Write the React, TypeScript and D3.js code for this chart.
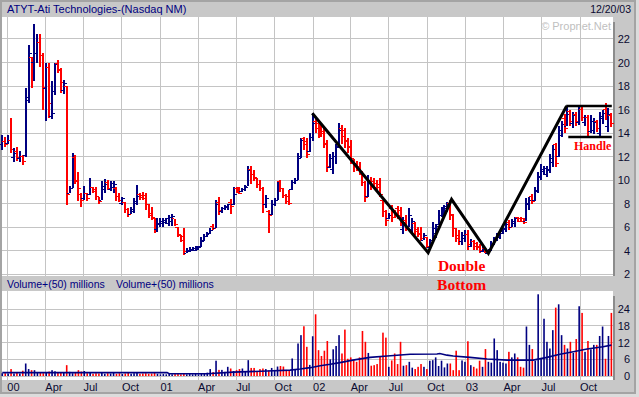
import * as d3 from "d3";

// weekly bars, first week starting Mon 20 Dec 1999
const firstWeek = new Date(1999, 11, 20);

const opens = [
  13.0, 13.3, 13.1, 13.4, 11.9, 12.4, 11.8, 12.0, 12.1, 16.8,
  20.4, 20.0, 20.8, 21.7, 20.6, 17.8, 19.6, 15.4, 17.5, 19.9,
  19.3, 17.6, 18.0, 8.9, 9.3, 11.9, 9.9, 8.8, 8.4, 8.9,
  8.8, 9.4, 9.2, 8.6, 8.3, 9.2, 9.8, 9.2, 9.4, 9.3,
  8.6, 8.0, 8.1, 7.5, 7.1, 7.3, 8.0, 8.8, 8.7, 8.7,
  7.9, 7.2, 6.7, 5.8, 6.2, 6.3, 6.4, 6.3, 6.5, 6.7,
  6.0, 5.3, 5.2, 3.8, 3.9, 4.0, 4.0, 4.1, 4.4, 4.9,
  5.2, 5.4, 6.1, 5.9, 8.1, 7.3, 7.6, 7.7, 8.1, 7.9,
  9.3, 9.2, 9.0, 9.2, 9.5, 10.9, 10.5, 10.1, 9.6, 9.3,
  7.9, 7.3, 7.1, 7.9, 8.3, 9.9, 9.3, 8.7, 8.6, 9.2,
  9.8, 10.0, 12.0, 13.5, 13.3, 12.4, 13.6, 15.0, 14.8, 14.6,
  14.0, 13.1, 11.1, 10.9, 12.0, 12.9, 14.4, 14.2, 13.4, 12.9,
  11.7, 11.4, 11.2, 10.5, 9.8, 8.6, 10.0, 9.9, 9.7, 9.6,
  8.3, 7.3, 6.7, 7.6, 7.3, 7.6, 7.4, 5.8, 6.6, 6.0,
  5.8, 6.3, 5.8, 5.5, 4.9, 5.1, 4.3, 4.9, 5.5, 6.2,
  7.0, 7.4, 7.6, 8.0, 7.1, 5.9, 5.3, 4.8, 5.0, 5.4,
  4.4, 4.8, 4.6, 4.4, 3.9, 4.2, 3.8, 4.1, 4.5, 4.9,
  5.1, 5.5, 5.8, 6.4, 6.0, 6.3, 6.8, 6.7, 6.7, 6.5,
  7.9, 8.6, 8.3, 9.0, 10.2, 10.7, 10.5, 10.8, 11.5, 13.0,
  12.0, 13.8, 15.2, 14.6, 15.8, 14.8, 15.6, 14.9, 16.0, 14.9,
  15.3, 14.1, 14.2, 15.0, 14.0, 15.2, 16.0, 14.6, 15.5
];
const highs = [
  13.8, 13.7, 13.8, 15.3, 12.7, 12.8, 12.5, 12.1, 17.8, 21.5,
  20.5, 23.3, 22.4, 22.4, 20.8, 20.0, 20.0, 18.4, 20.0, 20.2,
  19.5, 18.5, 18.0, 9.5, 12.3, 12.1, 10.7, 8.9, 9.5, 8.9,
  10.2, 9.4, 9.4, 8.6, 9.9, 10.1, 10.0, 9.9, 9.9, 9.4,
  8.9, 8.6, 8.1, 7.6, 7.7, 8.5, 9.6, 8.9, 9.0, 8.9,
  8.0, 7.7, 6.8, 6.8, 6.8, 6.8, 6.8, 7.0, 7.1, 6.7,
  6.0, 5.3, 5.9, 4.2, 4.3, 4.3, 4.4, 4.4, 5.2, 5.4,
  5.6, 5.9, 6.3, 8.3, 8.6, 7.7, 7.9, 8.0, 8.4, 9.4,
  9.4, 9.4, 9.3, 9.6, 11.2, 11.2, 10.9, 10.2, 10.0, 9.4,
  8.7, 7.5, 8.3, 8.5, 9.9, 10.0, 9.3, 8.8, 9.2, 10.0,
  10.2, 12.3, 13.6, 13.7, 13.6, 14.0, 15.7, 15.4, 15.1, 14.8,
  14.4, 13.4, 12.2, 12.4, 13.1, 14.9, 14.7, 14.4, 13.6, 13.4,
  11.8, 11.6, 11.5, 10.7, 9.9, 10.4, 10.3, 10.2, 10.0, 10.2,
  8.3, 7.5, 7.2, 7.9, 7.5, 7.8, 7.7, 6.9, 7.0, 7.6,
  6.8, 6.4, 6.0, 6.0, 5.5, 5.2, 5.0, 6.4, 6.3, 7.5,
  7.7, 7.9, 8.1, 8.3, 7.1, 5.9, 5.8, 5.6, 5.8, 5.8,
  5.0, 4.9, 4.7, 4.6, 4.4, 4.3, 4.1, 4.8, 5.2, 5.5,
  5.8, 6.1, 6.4, 6.6, 6.7, 6.9, 6.9, 6.9, 6.8, 8.5,
  8.6, 8.8, 9.4, 10.7, 11.4, 11.2, 11.2, 12.2, 13.0, 13.2,
  14.6, 15.0, 15.6, 16.2, 16.0, 15.8, 15.8, 16.4, 16.2, 15.5,
  15.5, 15.5, 15.3, 15.1, 15.8, 16.0, 16.6, 16.1, 15.7
];
const lows = [
  12.6, 12.8, 13.1, 12.3, 11.5, 11.6, 11.5, 11.3, 12.0, 16.6,
  17.8, 18.4, 20.0, 19.6, 16.0, 15.0, 15.3, 15.2, 17.2, 19.1,
  17.4, 17.3, 7.9, 8.9, 9.3, 9.7, 8.2, 7.7, 8.3, 8.2,
  8.7, 8.9, 8.3, 8.0, 8.3, 8.9, 9.2, 9.1, 8.9, 8.2,
  8.1, 7.9, 7.2, 6.9, 7.1, 7.2, 7.9, 8.3, 8.3, 7.5,
  6.8, 6.6, 5.5, 5.6, 6.0, 6.0, 6.3, 6.1, 6.1, 6.1,
  5.2, 4.7, 3.6, 3.8, 3.9, 4.0, 4.0, 4.1, 4.35, 4.8,
  5.2, 5.4, 5.8, 5.9, 7.0, 7.2, 7.5, 7.5, 7.1, 7.9,
  8.9, 8.8, 9.0, 9.1, 9.5, 9.7, 9.9, 9.3, 9.1, 7.2,
  7.6, 5.5, 7.0, 7.8, 8.3, 9.0, 8.5, 8.0, 7.9, 9.2,
  9.7, 10.0, 11.9, 12.6, 11.9, 12.4, 13.3, 14.0, 13.6, 13.7,
  12.7, 10.7, 11.0, 10.5, 11.4, 12.8, 13.1, 12.7, 12.3, 11.4,
  10.7, 10.8, 10.5, 9.5, 8.1, 8.6, 9.2, 9.3, 9.2, 8.6,
  6.9, 6.1, 6.7, 6.4, 6.8, 6.7, 6.1, 5.4, 5.7, 6.0,
  5.5, 5.3, 5.2, 4.8, 4.9, 4.2, 4.1, 4.7, 5.1, 6.2,
  6.9, 7.0, 7.3, 6.6, 5.2, 4.7, 4.5, 4.5, 4.7, 4.1,
  4.3, 4.1, 4.1, 3.8, 3.9, 3.8, 3.8, 4.0, 4.5, 4.8,
  5.0, 5.4, 5.6, 5.8, 6.0, 6.0, 6.4, 6.4, 6.3, 6.5,
  7.5, 8.0, 8.2, 8.9, 10.0, 10.4, 10.3, 10.6, 11.1, 11.1,
  12.0, 13.7, 14.0, 14.6, 14.6, 14.4, 14.6, 14.7, 15.0, 14.6,
  13.7, 14.0, 13.9, 14.1, 13.7, 14.8, 15.1, 14.1, 14.5
];
const closes = [
  13.3, 13.0, 13.4, 12.6, 12.3, 11.9, 12.0, 11.6, 17.0, 20.8,
  20.0, 20.8, 21.7, 20.6, 17.9, 19.6, 16.5, 15.7, 19.8, 19.4,
  18.3, 18.2, 8.8, 9.3, 12.0, 10.0, 9.3, 8.3, 8.9, 8.4,
  9.4, 9.0, 8.6, 8.2, 9.5, 9.6, 9.3, 9.7, 9.6, 8.6,
  8.3, 8.4, 7.5, 7.1, 7.5, 8.2, 8.6, 8.5, 8.4, 7.9,
  7.0, 6.8, 5.8, 6.3, 6.5, 6.6, 6.7, 6.8, 6.9, 6.2,
  5.4, 4.9, 3.9, 4.0, 4.1, 4.2, 4.2, 4.3, 4.8, 5.2,
  5.5, 5.7, 5.9, 7.9, 7.4, 7.6, 7.8, 7.9, 7.8, 8.8,
  9.1, 8.9, 9.2, 9.4, 10.8, 10.5, 10.2, 9.6, 9.3, 7.9,
  8.4, 7.0, 7.9, 8.3, 9.3, 9.3, 8.7, 8.2, 8.0, 9.8,
  10.0, 11.8, 13.4, 13.0, 12.2, 13.6, 14.8, 14.4, 14.2, 14.1,
  13.0, 11.2, 11.8, 12.0, 12.8, 14.2, 13.7, 13.3, 12.8, 11.8,
  11.2, 11.0, 10.7, 9.8, 8.5, 9.9, 9.5, 9.4, 9.4, 8.8,
  7.3, 6.6, 7.0, 6.8, 7.0, 7.0, 6.4, 6.4, 5.9, 7.0,
  6.5, 5.6, 5.4, 5.0, 5.3, 4.4, 4.9, 5.9, 6.1, 7.0,
  7.5, 7.8, 7.9, 7.0, 5.9, 5.0, 4.8, 5.3, 5.4, 4.5,
  4.8, 4.4, 4.3, 4.0, 4.2, 3.9, 4.0, 4.6, 5.0, 5.3,
  5.6, 5.9, 6.2, 6.0, 6.5, 6.7, 6.5, 6.5, 6.4, 8.0,
  8.3, 8.2, 9.1, 10.3, 10.9, 11.0, 10.9, 11.8, 12.6, 11.4,
  14.2, 14.7, 14.4, 15.6, 15.0, 15.5, 15.0, 16.0, 15.3, 15.3,
  14.1, 15.0, 14.9, 14.4, 15.4, 15.7, 15.4, 15.6, 14.8
];
// weekly volume, millions
const volumes = [
  1.0, 1.0, 0.9, 2.5, 0.9, 1.1, 0.9, 1.9, 4.5, 2.5,
  2.1, 2.1, 1.3, 1.1, 1.0, 1.4, 1.6, 2.1, 1.7, 1.3,
  1.1, 1.3, 3.9, 1.5, 1.0, 1.3, 2.1, 1.6, 1.8, 1.0,
  1.1, 0.8, 1.0, 0.9, 1.2, 0.8, 1.0, 0.9, 1.3, 0.8,
  1.0, 0.7, 0.9, 1.1, 0.8, 1.0, 1.2, 0.8, 0.9, 1.0,
  0.8, 0.9, 1.1, 0.8, 0.6, 0.7, 0.6, 0.8, 0.6, 0.7,
  0.8, 0.6, 0.9, 0.6, 0.7, 0.6, 0.8, 0.6, 0.9, 0.8,
  1.2, 2.5, 1.4, 5.5, 2.2, 2.2, 1.5, 3.3, 2.7, 1.8,
  2.1, 2.5, 2.7, 1.6, 5.7, 2.9, 2.9, 1.8, 2.5, 2.7,
  2.5, 2.0, 2.9, 2.1, 3.4, 3.6, 3.4, 2.2, 2.0, 6.3,
  2.5, 11.7, 14.7, 17.9, 10.5, 4.0, 14.3, 22.2, 9.3, 7.2,
  9.1, 12.6, 6.0, 9.6, 10.8, 14.7, 8.1, 16.7, 6.2, 6.7,
  5.7, 5.1, 6.7, 16.2, 12.3, 8.3, 3.7, 3.9, 4.3, 7.0,
  15.6, 13.8, 3.3, 5.6, 8.1, 4.3, 12.3, 3.7, 3.9, 5.1,
  3.0, 2.5, 3.3, 4.3, 3.3, 2.5, 5.5, 5.7, 6.7, 3.6,
  5.5, 3.1, 4.5, 4.5, 2.1, 9.1, 2.1, 5.6, 5.1, 12.5,
  3.9, 3.3, 2.7, 5.5, 3.3, 9.7, 5.1, 4.8, 13.5, 9.3,
  5.1, 4.8, 4.5, 8.7, 6.7, 8.1, 6.7, 3.3, 3.0, 17.8,
  11.2, 9.7, 5.5, 29.4, 6.2, 20.6, 12.3, 9.9, 16.5, 24.6,
  25.8, 14.7, 11.2, 9.9, 12.3, 8.3, 13.3, 25.1, 22.7, 8.7,
  12.6, 9.6, 11.2, 11.2, 14.4, 17.8, 6.2, 14.4, 22.7
];

// 50-day volume average as drawn
const maDates = [
  "1999-12-20", "2001-01-17", "2001-01-22", "2001-04-22", "2001-06-24", "2001-09-13",
  "2001-11-07", "2001-12-01", "2001-12-25", "2002-01-18", "2002-02-11", "2002-03-06",
  "2002-04-06", "2002-05-17", "2002-06-27", "2002-08-21", "2002-10-24", "2002-10-31",
  "2002-11-17", "2002-12-02", "2003-01-11", "2003-02-21", "2003-04-10", "2003-06-11",
  "2003-07-14", "2003-08-14", "2003-09-15", "2003-10-18", "2003-11-25", "2003-12-15"
];
const maValues = [
  1.2, 1.2, 0.8, 0.8, 1.4, 1.8,
  2.1, 2.5, 3.0, 3.7, 4.2, 4.8,
  5.7, 6.7, 7.2, 7.8, 7.9, 8.1,
  7.5, 7.2, 6.7, 6.1, 5.7, 5.7,
  6.7, 7.8, 8.7, 9.7, 10.5, 11.1
];

// double bottom pattern drawn over the prices
const patternDates = ["2001-12-30", "2002-10-03", "2002-11-28", "2003-02-24", "2003-08-30"];
const patternPrices = [15.68, 3.83, 8.37, 3.78, 16.3];
const handleTopDates = ["2003-08-29", "2003-12-16"];
const handleTopPrices = [16.3, 16.3];
const handleLowDates = ["2003-09-03", "2003-12-16"];
const handleLowPrices = [13.67, 13.67];

const priceTicks = [2, 4, 6, 8, 10, 12, 14, 16, 18, 20, 22];
const volumeTicks = [0, 6, 12, 18, 24];

const NAVY = "#000080";
const RED = "#ff0000";
const GRID = "#c4c4c4";
const PANEL = "#c8c8c8";
const TXT = "#0a0a30";
const SANS = "'Liberation Sans', Arial, sans-serif";
const SERIF = "'Liberation Serif', 'Times New Roman', serif";

const parse = d3.timeParse("%Y-%m-%d");

export default function App() {
  const x = d3.scaleTime()
    .domain([new Date(2000, 0, 1), new Date(2003, 9, 1)])
    .range([7.3, 580]);
  const yP = d3.scaleLinear().domain([1.85, 23.87]).range([276, 17]);
  const yV = d3.scaleLinear().domain([0, 24]).range([376, 309.3]);

  const plotL = 2, plotR = 613;
  const pTop = 17, pBot = 276, vTop = 291, vBot = 380;

  const bars = closes.map((c, i) => ({
    date: d3.timeWeek.offset(firstWeek, i),
    o: opens[i], h: highs[i], l: lows[i], c,
    v: volumes[i]
  }));

  const quarters = x.ticks(d3.timeMonth.every(3));
  const fmt = (d: Date) => d.getMonth() === 0 ? d3.timeFormat("%y")(d) : d3.timeFormat("%b")(d);

  const maLine = d3.line<number>()
    .x((_, i) => x(parse(maDates[i])!))
    .y(v => yV(v));

  const pLine = (dates: string[], prices: number[]) =>
    d3.line<number>().x((_, i) => x(parse(dates[i])!)).y(p => yP(p))(prices) || "";

  const labelX = x(parse("2002-12-22")!);

  return (
    <svg width={639} height={397} style={{ position: "absolute", left: 0, top: 0, display: "block" }}>
      <rect x={0} y={0} width={639} height={397} fill="#dcdcdc" />
      <rect x={1} y={1} width={634} height={392} fill={PANEL} stroke="#a4a4a4" strokeWidth={2} />

      {/* plot backgrounds with shadow on right */}
      <rect x={plotR} y={pTop + 5} width={2} height={pBot - pTop - 5} fill="#8c8c8c" />
      <rect x={plotR} y={vTop + 5} width={2} height={vBot - vTop - 5} fill="#8c8c8c" />
      <rect x={plotL} y={pTop} width={plotR - plotL} height={pBot - pTop} fill="#fff" />
      <rect x={plotL} y={vTop} width={plotR - plotL} height={vBot - vTop} fill="#fff" />

      {/* grid */}
      <g stroke={GRID} strokeWidth={1} shapeRendering="crispEdges">
        {quarters.map((q, i) => (
          <g key={i}>
            <line x1={x(q)} x2={x(q)} y1={pTop} y2={pBot} />
            <line x1={x(q)} x2={x(q)} y1={vTop} y2={vBot} />
          </g>
        ))}
        {priceTicks.map(t => (
          <line key={t} x1={plotL} x2={plotR} y1={yP(t)} y2={yP(t)} />
        ))}
        {volumeTicks.map(t => (
          <line key={t} x1={plotL} x2={plotR} y1={yV(t)} y2={yV(t)} />
        ))}
      </g>

      {/* price bars */}
      <g shapeRendering="crispEdges">
        {bars.map((b, i) => {
          const cx = x(b.date);
          const col = b.c >= b.o ? NAVY : RED;
          return (
            <g key={i} fill={col}>
              <rect x={cx - 1} y={yP(b.h)} width={2} height={Math.max(1, yP(b.l) - yP(b.h))} />
              <rect x={cx - 3} y={yP(b.o) - 0.5} width={2} height={1} />
              <rect x={cx + 1} y={yP(b.c) - 0.5} width={2} height={1} />
            </g>
          );
        })}
      </g>

      {/* volume bars */}
      <g>
        {bars.map((b, i) => (
          <rect key={i} x={x(b.date) - 0.8} y={yV(b.v)} width={1.6} height={yV(0) - yV(b.v)}
            fill={b.c >= b.o ? NAVY : RED} />
        ))}
        <path d={maLine(maValues) || ""} fill="none" stroke={NAVY} strokeWidth={1.6} />
      </g>

      {/* pattern lines */}
      <g fill="none" stroke="#000" strokeLinejoin="miter">
        <path d={pLine(patternDates, patternPrices)} strokeWidth={3} />
        <path d={pLine(handleTopDates, handleTopPrices)} strokeWidth={2.5} />
        <path d={pLine(handleLowDates, handleLowPrices)} strokeWidth={2.5} />
      </g>

      {/* right axis labels */}
      <g fontFamily={SANS} fontSize={11} fill={TXT} textAnchor="end">
        {priceTicks.map(t => (
          <text key={t} x={630} y={yP(t) + 4}>{t}</text>
        ))}
        {volumeTicks.map(t => (
          <text key={t} x={630} y={yV(t) + 4}>{t}</text>
        ))}
      </g>

      {/* bottom date labels */}
      <g fontFamily={SANS} fontSize={11} fill={TXT}>
        {quarters.map((q, i) => (
          <text key={i} x={x(q)} y={391}>{fmt(q)}</text>
        ))}
      </g>

      {/* titles */}
      <text x={7} y={13} fontFamily={SANS} fontSize={11} fill={NAVY}>ATYT-Ati Technologies-(Nasdaq NM)</text>
      <text x={631} y={13} fontFamily={SANS} fontSize={10.5} fill={TXT} textAnchor="end">12/20/03</text>
      <text x={611} y={30} fontFamily={SANS} fontSize={11} fill="#c0c0c0" textAnchor="end">© Propnet.Net</text>
      <text x={7} y={288} fontFamily={SANS} fontSize={10.5} fill={NAVY}>Volume+(50) millions</text>
      <text x={116} y={288} fontFamily={SANS} fontSize={10.5} fill={NAVY}>Volume+(50) millions</text>

      {/* annotations */}
      <g fontFamily={SERIF} fontWeight="bold" fill={RED}>
        <text x={labelX} y={271} fontSize={15.5} textAnchor="middle">Double</text>
        <text x={labelX} y={290} fontSize={15.5} textAnchor="middle">Bottom</text>
        <text x={574} y={150} fontSize={12}>Handle</text>
      </g>
    </svg>
  );
}
